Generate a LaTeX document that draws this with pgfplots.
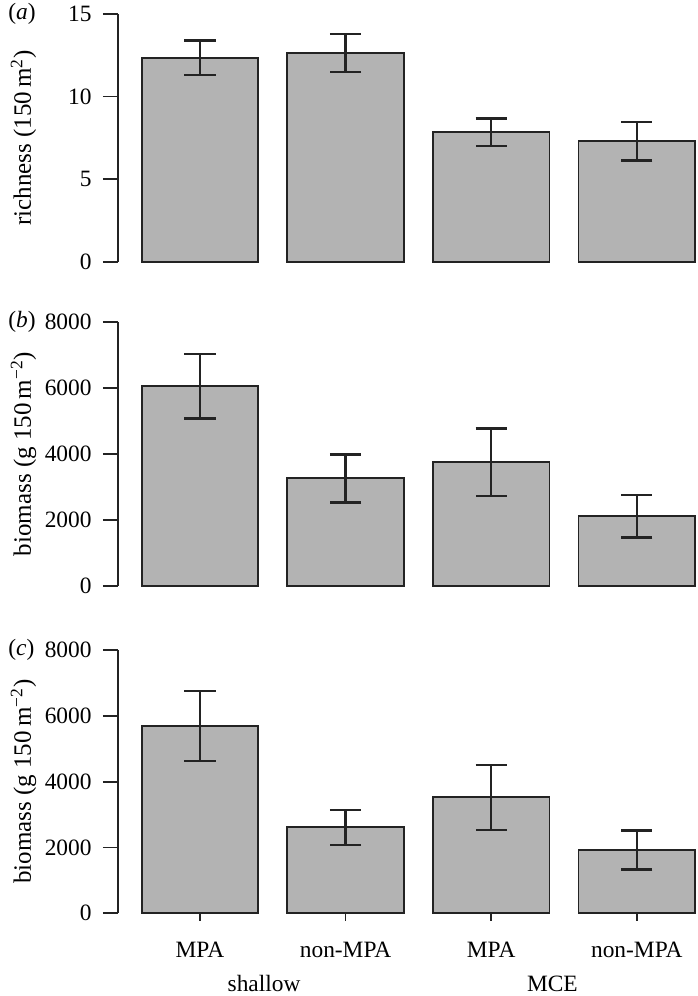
\documentclass[border=0pt]{standalone}
\usepackage{fontspec}
\setmainfont{Liberation Serif}
\usepackage{pgfplots}
\usepackage{pgfplotstable}
\pgfplotsset{compat=1.18}

\definecolor{barfill}{RGB}{179,179,179}
\definecolor{edge}{RGB}{35,35,35}

\pgfplotstableread{
x y ep em
0 12.35 1.05 1.05
1 12.64 1.16 1.17
2 7.84 0.84 0.83
3 7.29 1.17 1.15
}\richtab

\pgfplotstableread{
x y ep em
0 6053 969 977
1 3278 708 745
2 3753 1020 1020
3 2119 635 645
}\biotabb

\pgfplotstableread{
x y ep em
0 5682 1073 1054
1 2613 535 538
2 3534 981 1003
3 1923 599 586
}\biotabc

\pgfplotsset{
  panel/.style={
    scale only axis, width=289.25pt,
    xmin=-0.563, xmax=3.41, ymin=0,
    enlargelimits=false, clip=false,
    axis y line=left,
    y axis line style={-, line width=0.9pt, draw=edge},
    tick align=outside, major tick length=7.5pt,
    tick style={line width=0.9pt, draw=edge},
    yticklabel style={anchor=east, inner sep=0pt, xshift=-5.5pt},
    /pgf/number format/assume math mode=true,
    /pgf/number format/set thousands separator={},
    scaled y ticks=false,
    font=\fontsize{11.7}{14}\selectfont,
    ylabel style={at={(axis description cs:-0.1504,0.5)}, anchor=base, font=\fontsize{12.5}{15}\selectfont},
    ybar, bar width=0.8,
  },
  barstyle/.style={fill=barfill, draw=edge, line width=0.9pt,
    error bars/.cd, y dir=both, y explicit,
    error bar style={line width=1.2pt, draw=edge},
    error mark options={rotate=90, mark size=7.8pt, line width=1.2pt, draw=edge}},
}

\begin{document}
\begin{tikzpicture}
\useasboundingbox (-59pt,0pt) rectangle (289.5pt,-498pt);

% (a)
\begin{axis}[panel, height=123.85pt, ymax=15, ytick={0,5,10,15},
  at={(0pt,-130.85pt)}, anchor=south west,
  axis x line=none,
  ylabel={richness (150\,m\textsuperscript{2})}]
\addplot[barstyle] table[x=x, y=y, y error plus=ep, y error minus=em] {\richtab};
\node[anchor=west, inner sep=0pt, xshift=-55pt] at (rel axis cs:0,1) {(\textit{a})};
\end{axis}

% (b)
\begin{axis}[panel, height=132.15pt, ymax=8000, ytick={0,2000,4000,6000,8000},
  at={(0pt,-293pt)}, anchor=south west,
  axis x line=none,
  ylabel={biomass (g 150\,m\textsuperscript{−2})}]
\addplot[barstyle] table[x=x, y=y, y error plus=ep, y error minus=em] {\biotabb};
\node[anchor=west, inner sep=0pt, xshift=-55pt] at (rel axis cs:0,1) {(\textit{b})};
\end{axis}

% (c)
\begin{axis}[panel, height=131.65pt, ymax=8000, ytick={0,2000,4000,6000,8000},
  at={(0pt,-456.65pt)}, anchor=south west,
  axis x line=bottom, x axis line style={draw=none},
  xtick={0,1,2,3}, xticklabels={MPA,non-MPA,MPA,non-MPA},
  xticklabel style={anchor=base, inner sep=0pt, yshift=-18.5pt},
  ylabel={biomass (g 150\,m\textsuperscript{−2})}]
\addplot[barstyle] table[x=x, y=y, y error plus=ep, y error minus=em] {\biotabc};
\node[anchor=west, inner sep=0pt, xshift=-55pt] at (rel axis cs:0,1) {(\textit{c})};
\node[anchor=base, yshift=-39pt] at (axis cs:0.44,0) {shallow};
\node[anchor=base, yshift=-39pt] at (axis cs:2.42,0) {MCE};
\end{axis}
\end{tikzpicture}
\end{document}
